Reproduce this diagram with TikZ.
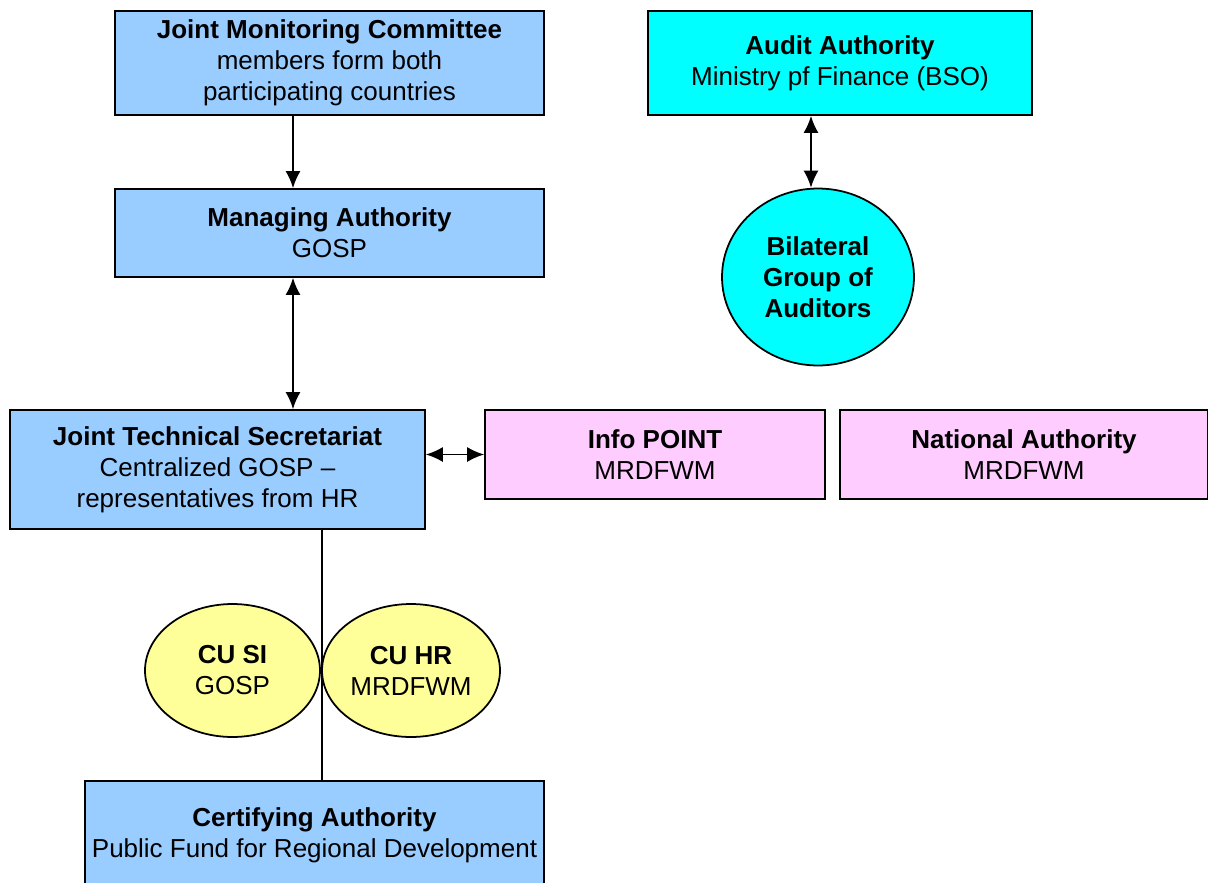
\documentclass[tikz,border=0pt]{standalone}
\usepackage{fontspec}
\setmainfont{Liberation Sans}
\usetikzlibrary{arrows.meta,shapes}
\definecolor{node_blue}{RGB}{153,204,255}
\definecolor{node_cyan}{RGB}{0,255,255}
\definecolor{node_pink}{RGB}{255,204,255}
\definecolor{node_yell}{RGB}{255,255,153}

\begin{document}
\begin{tikzpicture}[line width=1pt,>={Latex[length=0.34cm,width=0.3cm]},x=0.02cm,y=-0.02cm]
    \tikzstyle{body}=[draw,line width=1pt,align=center,inner sep=0pt,text=black,font=\fontsize{14.8}{17.6}\selectfont]
    \tikzstyle{unitblue}=[style=body,rectangle,fill=node_blue]
    \tikzstyle{unitcyan}=[style=body,rectangle,fill=node_cyan]
    \tikzstyle{unitpink}=[style=body,rectangle,fill=node_pink,minimum width=6.8cm,minimum height=1.78cm]
    \tikzstyle{groupcyan}=[style=body,ellipse,fill=node_cyan]
    \tikzstyle{groupyell}=[style=body,ellipse,fill=node_yell,minimum height=2.66cm]

    \useasboundingbox (0,0) rectangle (1208,883);

    \node[unitblue,minimum width=8.58cm,minimum height=2.08cm] (JMC) at (329.5,63)
      {\textbf{Joint Monitoring Committee}\\members form both\\participating countries};
    \node[unitblue,minimum width=8.58cm,minimum height=1.76cm] (MA) at (329.5,233)
      {\textbf{Managing Authority}\\GOSP};
    \node[unitblue,minimum width=8.3cm,minimum height=2.38cm] (JTS) at (217.5,469.5)
      {\textbf{Joint Technical Secretariat}\\Centralized GOSP --\\representatives from HR};
    \node[unitpink] (IP) at (655,454.5) {\textbf{Info POINT}\\MRDFWM};
    \node[unitpink,minimum width=7.36cm] (NA) at (1024,454.5) {\textbf{National Authority}\\MRDFWM};
    \node[unitcyan,minimum width=7.68cm,minimum height=2.08cm] (AA) at (840,63)
      {\textbf{Audit Authority}\\Ministry pf Finance (BSO)};
    \node[groupcyan,minimum width=3.84cm,minimum height=3.54cm] (BGA) at (818,277)
      {\textbf{Bilateral}\\\textbf{Group of}\\\textbf{Auditors}};
    \node[unitblue,minimum width=9.18cm,minimum height=2.16cm] (CA) at (314.5,835)
      {\textbf{Certifying Authority}\\Public Fund for Regional Development};

    \coordinate (jx) at (293,0);
    \coordinate (ax) at (811,0);
    \coordinate (lx) at (322,0);

    \draw (JTS.south -| lx) -- (CA.north -| lx);

    \node[groupyell,minimum width=3.5cm] (CUSI) at (232.5,670.5) {\textbf{CU SI}\\GOSP};
    \node[groupyell,minimum width=3.56cm] (CUHR) at (411,670.5) {\textbf{CU HR}\\MRDFWM};

    \draw[->] (JMC.south -| jx) -- (MA.north -| jx);
    \draw[<->] (MA.south -| jx) -- (JTS.north -| jx);
    \draw[<->] (JTS.east |- IP.west) -- (IP.west);
    \draw[<->] (AA.south -| ax) -- (BGA.north -| ax);
\end{tikzpicture}
\end{document}
